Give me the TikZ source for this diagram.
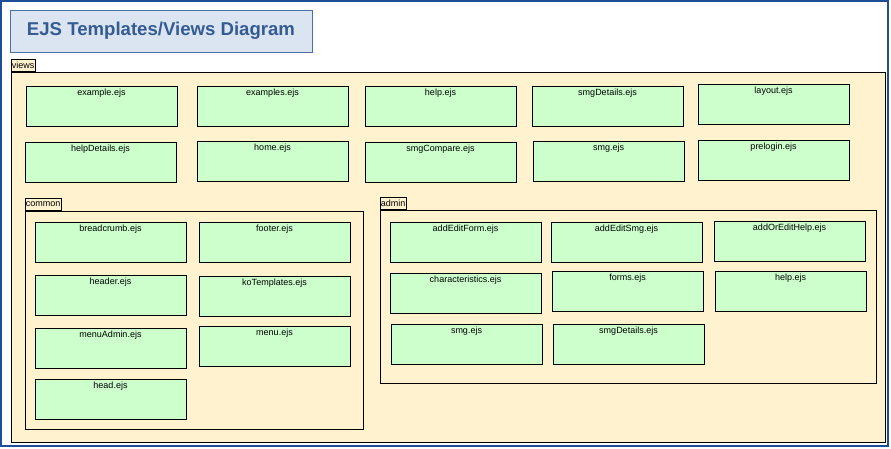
\documentclass[tikz,border=0pt]{standalone}
\usepackage{fontspec}
\setmainfont{Liberation Sans}
\usepackage{tikz}
\usetikzlibrary{calc}
\definecolor{framblue}{RGB}{31,78,153}
\definecolor{titlefill}{RGB}{219,228,241}
\definecolor{titleedge}{RGB}{74,112,166}
\definecolor{titletext}{RGB}{52,92,146}
\definecolor{pkgcream}{RGB}{255,242,206}
\definecolor{ejsgreen}{RGB}{204,255,204}
\tikzset{
  ejs/.style={draw=black, fill=ejsgreen, line width=0.9pt, minimum width=151pt, minimum height=40pt, inner sep=0pt},
  ejslbl/.style={anchor=north, inner sep=0pt, yshift=-3pt, font=\fontsize{9}{10}\selectfont},
  pkgtab/.style={draw=black, fill=pkgcream, line width=0.9pt, anchor=south west, inner sep=0.5pt, minimum height=12pt, font=\fontsize{9}{10}\selectfont},
}
\def\ejsfile(#1)(#2,#3)#4{\node[ejs, label={[ejslbl]north:#4}] (#1) at (#2+75.5,#3+20) {};}

\begin{document}
\begin{tikzpicture}[x=1pt,y=-1pt]
		%%%%% START %%%%%
		\useasboundingbox (0,0) rectangle (891,448);
		\fill[white] (0,0) rectangle (891,448);
		\draw[line width=2pt, color=framblue] (1,1) rectangle (888,446);
		
		\node[draw=titleedge, fill=titlefill, line width=1pt, minimum width=302pt, minimum height=42pt, text=titletext, font=\bfseries\fontsize{18.6}{20}\selectfont] (title) at (161,31) {EJS Templates/Views Diagram};
		
		%%%%% views %%%%%
		\node[pkgtab] (viewstab) at (11,72) {views};
		\draw[line width=1pt, fill=pkgcream] (11,72) rectangle (885,442);
		
		\ejsfile(example)(26,86){example.ejs}
		\ejsfile(examples)(197,86){examples.ejs}
		\ejsfile(help)(365,86){help.ejs}
		\ejsfile(smgdetails)(532,86){smgDetails.ejs}
		\ejsfile(layout)(698,84){layout.ejs}
		
		\ejsfile(helpdetails)(25,142){helpDetails.ejs}
		\ejsfile(home)(197,141){home.ejs}
		\ejsfile(smgcompare)(365,142){smgCompare.ejs}
		\ejsfile(smg)(533,141){smg.ejs}
		\ejsfile(prelogin)(698,140){prelogin.ejs}
		
		%%%%% common %%%%%
		\node[pkgtab] (commontab) at (25,211) {common};
		\draw[line width=1pt] (25,211) rectangle (363,429);
		
		\ejsfile(breadcrumb)(35,222){breadcrumb.ejs}
		\ejsfile(footer)(199,222){footer.ejs}
		\ejsfile(header)(35,275){header.ejs}
		\ejsfile(kotemplates)(199,276){koTemplates.ejs}
		\ejsfile(menuadmin)(35,328){menuAdmin.ejs}
		\ejsfile(menu)(199,326){menu.ejs}
		\ejsfile(head)(35,379){head.ejs}
		
		%%%%% admin %%%%%
		\node[pkgtab] (admintab) at (380,210) {admin};
		\draw[line width=1pt] (380,210) rectangle (876,383);
		
		\ejsfile(addeditform)(390,222){addEditForm.ejs}
		\ejsfile(addeditsmg)(551,222){addEditSmg.ejs}
		\ejsfile(addoredithelp)(714,221){addOrEditHelp.ejs}
		\ejsfile(characteristics)(390,273){characteristics.ejs}
		\ejsfile(forms)(552,271){forms.ejs}
		\ejsfile(adminhelp)(715,271){help.ejs}
		\ejsfile(adminsmg)(391,324){smg.ejs}
		\ejsfile(adminsmgdetails)(553,324){smgDetails.ejs}
		%%%%% END %%%%%
\end{tikzpicture}
\end{document}
